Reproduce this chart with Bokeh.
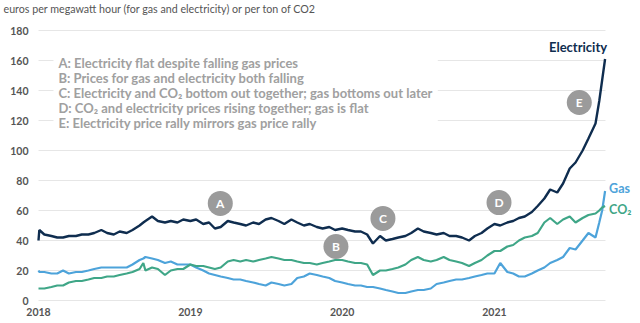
import pandas as pd
from bokeh.plotting import figure
from bokeh.models import ColumnDataSource, Label, Range1d
from bokeh.core.properties import value
from bokeh.embed import file_html
from bokeh.resources import INLINE

# ---------------- data ----------------
dates = [
    "2018-01-01", "2018-01-03", "2018-01-15", "2018-02-01", "2018-02-15", "2018-03-01", "2018-03-15",
    "2018-04-01", "2018-04-15", "2018-05-01", "2018-05-15", "2018-06-01", "2018-06-15", "2018-07-01",
    "2018-07-15", "2018-08-01", "2018-08-15", "2018-09-01", "2018-09-10", "2018-09-15", "2018-10-01",
    "2018-10-15", "2018-11-01", "2018-11-15", "2018-12-01", "2018-12-15",
    "2019-01-01", "2019-01-15", "2019-02-01", "2019-02-15", "2019-03-01", "2019-03-15", "2019-04-01",
    "2019-04-15", "2019-05-01", "2019-05-15", "2019-06-01", "2019-06-15", "2019-07-01", "2019-07-15",
    "2019-08-01", "2019-08-15", "2019-09-01", "2019-09-15", "2019-10-01", "2019-10-15", "2019-11-01",
    "2019-11-15", "2019-12-01", "2019-12-15",
    "2020-01-01", "2020-01-15", "2020-02-01", "2020-02-15", "2020-03-01", "2020-03-15", "2020-04-01",
    "2020-04-15", "2020-05-01", "2020-05-15", "2020-06-01", "2020-06-15", "2020-07-01", "2020-07-15",
    "2020-08-01", "2020-08-15", "2020-09-01", "2020-09-15", "2020-10-01", "2020-10-15", "2020-11-01",
    "2020-11-15", "2020-12-01", "2020-12-15",
    "2021-01-01", "2021-01-15", "2021-02-01", "2021-02-15", "2021-03-01", "2021-03-15", "2021-04-01",
    "2021-04-15", "2021-05-01", "2021-05-15", "2021-06-01", "2021-06-15", "2021-07-01", "2021-07-15",
    "2021-08-01", "2021-08-15", "2021-09-01", "2021-09-10", "2021-09-17", "2021-09-24",
]

electricity = [
    40, 47, 44, 43, 42, 42, 43, 43, 44, 44, 45, 47, 45, 44, 46, 45, 47, 50, 52, 53, 56, 53, 52, 53, 52, 54,
    53, 54, 51, 52, 48, 49, 53, 52, 51, 50, 52, 51, 54, 55, 53, 51, 54, 52, 50, 51, 49, 48, 49, 47,
    48, 47, 46, 46, 44, 38, 43, 40, 41, 42, 43, 45, 48, 46, 45, 44, 45, 43, 43, 42, 40, 43, 45, 48,
    51, 50, 52, 53, 55, 56, 59, 63, 68, 74, 72, 78, 88, 92, 100, 108, 118, 133, 147, 161,
]

gas = [
    20, 19, 19, 18, 18, 20, 18, 19, 19, 20, 21, 22, 22, 22, 22, 22, 24, 27, 28, 29, 28, 27, 25, 26, 24, 24,
    24, 22, 20, 18, 17, 16, 15, 14, 14, 13, 12, 11, 10, 12, 11, 10, 11, 15, 16, 18, 17, 16, 15, 13,
    12, 11, 10, 10, 9, 9, 8, 7, 6, 5, 5, 6, 7, 7, 8, 11, 12, 13, 14, 14, 15, 16, 17, 18,
    18, 25, 19, 18, 16, 16, 18, 20, 22, 25, 27, 29, 35, 34, 40, 45, 42, 52, 60, 73,
]

co2 = [
    8, 8, 8, 9, 10, 10, 12, 13, 13, 14, 15, 15, 16, 16, 17, 18, 19, 21, 25, 20, 22, 21, 17, 20, 21, 21,
    24, 23, 23, 22, 21, 22, 26, 27, 26, 27, 26, 27, 28, 29, 28, 27, 27, 26, 25, 25, 24, 25, 26, 27,
    27, 26, 25, 25, 24, 17, 20, 20, 21, 22, 24, 27, 29, 27, 26, 27, 29, 27, 26, 25, 23, 25, 27, 30,
    33, 33, 36, 37, 40, 42, 43, 45, 52, 55, 51, 54, 56, 52, 55, 57, 58, 60, 62, 63,
]

year_ticks = ["2018-01-01", "2019-01-01", "2020-01-01", "2021-01-01"]
year_labels = ["2018", "2019", "2020", "2021"]
y_ticks = [0, 20, 40, 60, 80, 100, 120, 140, 160, 180]

marker_letters = ["A", "B", "C", "D", "E"]
marker_dates = ["2019-03-14", "2019-12-17", "2020-04-08", "2021-01-12", "2021-07-24"]
marker_values = [64.7, 36, 54.7, 65.3, 132]

notes = [
    "A: Electricity flat despite falling gas prices",
    "B: Prices for gas and electricity both falling",
    "C: Electricity and CO\u2082 bottom out together; gas bottoms out later",
    "D: CO\u2082 and electricity prices rising together; gas is flat",
    "E: Electricity price rally mirrors gas price rally",
]

title_text = "euros per megawatt hour (for gas and electricity) or per ton of CO2"

# ---------------- styling ----------------
C_ELEC = "#0f2d4f"
C_GAS = "#4da3da"
C_CO2 = "#3fa687"
C_TICK = "#555555"
FONT = "Lato"


def ms(d):
    return pd.Timestamp(d).value / 1e6


axis_start = ms("2018-01-01")
axis_end = ms("2021-09-25")
span = axis_end - axis_start
FRAME_PX = 567.0  # pixel width of the gridded area
PX_PER_UNIT = 1.5  # vertical pixels per euro

src = ColumnDataSource(dict(
    date=pd.to_datetime(dates),
    electricity=electricity,
    gas=gas,
    co2=co2,
))

p = figure(
    width=640, height=323, x_axis_type="datetime",
    x_axis_location=None, y_axis_location=None,
    output_backend="svg", toolbar_location=None,
    x_range=Range1d(axis_start - span * 38 / FRAME_PX, axis_end + span * 35 / FRAME_PX),
    y_range=Range1d(-23 / PX_PER_UNIT, 300 / PX_PER_UNIT),
    min_border=0,
)
p.outline_line_color = None
p.background_fill_color = "white"
p.border_fill_color = "white"
p.xgrid.visible = False
p.ygrid.visible = False

# horizontal grid lines limited to the data span
p.segment(x0=[axis_start] * len(y_ticks), x1=[axis_end] * len(y_ticks), y0=y_ticks, y1=y_ticks,
          line_color="#e6e6e6", line_width=1)

# y tick labels
p.text(x=[axis_start] * len(y_ticks), y=y_ticks, text=[str(v) for v in y_ticks],
       x_offset=-10, text_align="right", text_baseline="middle",
       text_font=value(FONT), text_font_style="bold", text_font_size="10.5px", text_color=C_TICK)

# x tick labels
p.text(x=pd.to_datetime(year_ticks), y=[0] * len(year_ticks), text=year_labels,
       y_offset=11, text_align="center", text_baseline="middle",
       text_font=value(FONT), text_font_style="bold", text_font_size="10.5px", text_color=C_TICK)

p.line("date", "gas", source=src, color=C_GAS, line_width=2.2)
p.line("date", "co2", source=src, color=C_CO2, line_width=2.2)
p.line("date", "electricity", source=src, color=C_ELEC, line_width=2.4)

# notes box
p.add_layout(Label(
    x=ms("2018-02-06"), y=167, text="\n".join(notes),
    text_font=FONT, text_font_style="bold", text_font_size="13px", text_line_height=0.94,
    text_color="#a0a0a0", text_baseline="top", text_align="left",
    background_fill_color="white", padding=5,
))

# letter markers
msrc = ColumnDataSource(dict(x=pd.to_datetime(marker_dates), y=marker_values, t=marker_letters))
p.scatter("x", "y", source=msrc, size=25, fill_color="#9b9b9b", line_color=None)
p.text("x", "y", text="t", source=msrc, text_align="center", text_baseline="middle",
       text_color="white", text_font=value(FONT), text_font_style="bold", text_font_size="12px")

# title
p.add_layout(Label(
    x=p.x_range.start, y=194.7, x_offset=3, text=title_text,
    text_font=FONT, text_font_size="10.7px", text_color=C_TICK,
    text_baseline="middle", text_align="left",
))

# series labels
end = ms(dates[-1])
p.add_layout(Label(x=end, y=169.3, x_offset=2, text="Electricity", text_align="right",
                   text_baseline="middle", text_font=FONT, text_font_style="bold",
                   text_font_size="13px", text_color=C_ELEC))
p.add_layout(Label(x=end, y=74.7, x_offset=4, text="Gas", text_align="left",
                   text_baseline="middle", text_font=FONT, text_font_style="bold",
                   text_font_size="12.5px", text_color=C_GAS))
p.add_layout(Label(x=end, y=60.5, x_offset=4, text="CO\u2082", text_align="left",
                   text_baseline="middle", text_font=FONT, text_font_style="bold",
                   text_font_size="12.5px", text_color=C_CO2))

open("out.html", "w").write(file_html(p, INLINE))
